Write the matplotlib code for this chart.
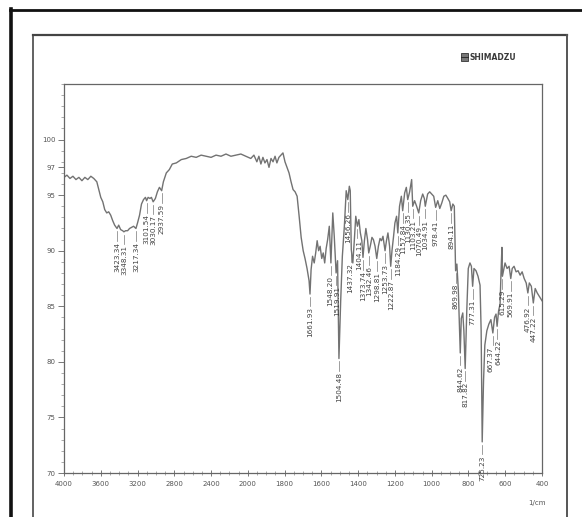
import numpy as np
import matplotlib
matplotlib.use("Agg")
import matplotlib.pyplot as plt
from matplotlib.patches import Rectangle
from matplotlib.lines import Line2D
from matplotlib.ticker import FixedLocator, MultipleLocator

# ---------------- data ----------------
wavenumber = [4000, 3968, 3935, 3903, 3870, 3838, 3805, 3773, 3741, 3708, 3676, 3643, 3622, 3600,
              3578, 3557, 3535, 3514, 3492, 3470, 3449, 3423.34, 3405, 3384, 3362, 3348.31, 3330,
              3308, 3287, 3265, 3243, 3217.34, 3200, 3178, 3157, 3135, 3114, 3101.54, 3085, 3065,
              3049, 3030.17, 3006, 2984, 2962, 2937.59, 2919, 2887, 2854, 2822, 2778, 2724, 2670,
              2616, 2562, 2508, 2454, 2400, 2346, 2292, 2238, 2184, 2130, 2076, 2022, 1984, 1967,
              1951, 1940, 1929, 1918, 1907, 1896, 1885, 1874, 1863, 1852, 1842, 1831, 1820, 1809,
              1798, 1787, 1776, 1765, 1754, 1743, 1732, 1721, 1710, 1699, 1689, 1678, 1667,
              1661.93, 1656, 1648, 1639, 1631, 1623, 1615, 1607, 1598, 1590, 1582, 1574, 1566,
              1557, 1548.20, 1538, 1530, 1519.91, 1512, 1504.48, 1495, 1486, 1475, 1465, 1456.26,
              1448, 1443, 1437.32, 1429, 1421, 1413, 1404.11, 1396, 1388, 1380, 1373.74, 1366,
              1358, 1349, 1342.46, 1333, 1325, 1317, 1308, 1298.81, 1290, 1281, 1273, 1265,
              1253.73, 1246, 1238, 1229, 1222.87, 1216, 1208, 1200, 1191, 1184.29, 1175, 1165,
              1157.84, 1147, 1138, 1130.35, 1120, 1109, 1103.21, 1093, 1082, 1070.49, 1060, 1049,
              1040, 1034.91, 1022, 1011, 1000, 989, 978.41, 967, 956, 945, 934, 923, 912, 902,
              894.11, 885, 877, 869.98, 863, 855, 844.62, 839, 831, 825, 817.82, 809, 801, 792,
              784, 777.31, 770, 759, 748, 737, 731, 725.23, 718, 711, 700, 689, 678, 667.37, 658,
              650, 644.22, 636, 628, 623, 618, 615.29, 601, 590, 579, 569.91, 562, 552, 541, 530,
              519, 508, 497, 486, 476.92, 469, 458, 447.22, 437, 426, 415, 400]

transmittance = [96.6, 96.8, 96.5, 96.7, 96.4, 96.6, 96.3, 96.6, 96.4, 96.7, 96.5, 96.2, 95.5, 94.8,
                 94.4, 93.7, 93.4, 93.5, 93.2, 92.7, 92.3, 92.0, 92.3, 91.9, 91.8, 91.7, 91.8,
                 91.8, 92.0, 92.1, 92.2, 92.0, 92.5, 93.2, 94.2, 94.6, 94.8, 94.5, 94.8, 94.7,
                 94.8, 94.4, 94.7, 95.3, 95.7, 95.4, 96.2, 97.0, 97.3, 97.8, 97.9, 98.2, 98.3,
                 98.5, 98.4, 98.6, 98.5, 98.4, 98.6, 98.5, 98.7, 98.5, 98.6, 98.7, 98.5, 98.3, 98.6,
                 98.0, 98.5, 97.8, 98.4, 97.9, 98.2, 97.5, 98.3, 98.0, 98.5, 97.9, 98.4, 98.6, 98.8,
                 98.0, 97.5, 97.0, 96.2, 95.5, 95.3, 94.9, 93.1, 91.2, 90.0, 89.3, 88.4, 87.3,
                 86.1, 88.3, 89.5, 88.9, 89.8, 90.9, 90.0, 90.4, 89.3, 89.8, 88.9, 90.2, 91.0,
                 92.2, 88.9, 93.4, 91.3, 88.0, 89.1, 80.3, 85.5, 89.5, 92.2, 95.4, 94.6,
                 95.8, 95.4, 90.1, 88.9, 90.9, 93.1, 92.2, 92.8, 91.6, 90.9, 89.4, 90.9,
                 92.0, 91.0, 89.8, 90.5, 91.2, 91.0, 90.4, 89.3, 90.4, 91.1, 90.9, 91.3,
                 90.0, 90.9, 91.6, 90.4, 88.6, 90.0, 91.2, 92.5, 93.1, 91.6, 94.0, 94.9,
                 93.6, 95.2, 95.7, 94.6, 95.3, 96.4, 94.0, 94.5, 94.0, 93.4, 94.5, 95.1,
                 94.7, 94.0, 95.1, 95.3, 95.1, 94.9, 93.9, 94.5, 93.8, 94.3, 94.9, 95.0, 94.7, 94.4,
                 93.6, 94.2, 94.0, 88.2, 88.8, 86.4, 80.8, 83.9, 84.4, 82.8, 79.4, 84.7, 88.4, 88.9,
                 88.6, 86.8, 88.4, 88.2, 87.7, 86.9, 82.8, 72.8, 78.3, 81.5, 82.8, 83.4, 83.8, 82.6, 84.0,
                 84.3, 83.2, 84.6, 85.2, 88.0, 90.3, 87.7, 88.9, 88.4, 88.6, 87.5, 88.4, 88.6, 88.1, 88.2,
                 87.8, 88.1, 87.5, 87.1, 86.2, 87.1, 86.8, 85.3, 86.6, 86.2, 85.9, 85.5]

peak_labels = ["3423.34", "3348.31", "3217.34", "3101.54", "3030.17", "2937.59", "1661.93",
               "1548.20", "1519.91", "1504.48", "1456.26", "1437.32", "1404.11", "1373.74",
               "1342.46", "1298.81", "1253.73", "1222.87", "1184.29", "1157.84", "1130.35",
               "1103.21", "1070.49", "1034.91", "978.41", "894.11", "869.98", "844.62",
               "817.82", "777.31", "725.23", "667.37", "644.22", "615.29", "569.91",
               "476.92", "447.22"]

x_ticks = [4000, 3600, 3200, 2800, 2400, 2000, 1800, 1600, 1400, 1200, 1000, 800, 600, 400]
y_ticks = [70, 75, 80, 85, 90, 95, 97.5, 100]
y_ticklabels = ["70", "75", "80", "85", "90", "95", "97", "100"]

# small horizontal nudges (points) for crowded peak labels
label_nudge = {"1437.32": -0.6, "1404.11": 1.2, "667.37": -1.5, "644.22": 1.0,
               "1548.20": -0.8, "1519.91": 0.5}

# ---------------- figure ----------------
W, H = 582, 517
fig = plt.figure(figsize=(W / 100, H / 100), dpi=100)
fig.patch.set_facecolor("white")

def fx(px):
    return px / W

def fy(py):
    return 1 - py / H

# page frames (scan border)
fig.add_artist(Line2D([fx(11), fx(11)], [fy(9), 0], color="#111111", lw=2.6))
fig.add_artist(Line2D([fx(10), 1.0], [fy(10), fy(10)], color="#111111", lw=2.0))
fig.add_artist(Line2D([fx(33), fx(33)], [fy(35), 0], color="#555555", lw=1.3))
fig.add_artist(Line2D([fx(33), fx(567)], [fy(35), fy(35)], color="#444444", lw=1.6))
fig.add_artist(Line2D([fx(567), fx(567)], [fy(35), 0], color="#555555", lw=1.4))

ax = fig.add_axes([fx(64), fy(473), fx(542) - fx(64), fy(84) - fy(473)])

def fwd(x):
    x = np.asarray(x, float)
    return np.where(x >= 2000, x / 2.0, x - 1000.0)

def inv(y):
    y = np.asarray(y, float)
    return np.where(y >= 1000, 2.0 * y, y + 1000.0)

ax.set_xscale("function", functions=(fwd, inv))
ax.set_xlim(4000, 400)
ax.set_ylim(70, 105)

ax.plot(wavenumber, transmittance, color="#727272", lw=1.0)

# peak labels
wn_arr = np.array(wavenumber)[::-1]
t_arr = np.array(transmittance)[::-1]
for lab in peak_labels:
    w = float(lab)
    t = float(np.interp(w, wn_arr, t_arr))
    ax.plot([w, w], [t - 0.25, t - 1.1], color="#777777", lw=0.5)
    ax.annotate(lab, xy=(w, t - 1.2), xytext=(label_nudge.get(lab, 0.0), 0),
                textcoords="offset points", rotation=90, ha="center", va="top",
                fontsize=5.2, color="#404040")

# axes styling
for s in ax.spines.values():
    s.set_color("#666666")
    s.set_linewidth(0.9)

ax.xaxis.set_major_locator(FixedLocator(x_ticks))
ax.set_xticklabels([str(v) for v in x_ticks])
minor_x = list(range(4000, 2000, -100)) + list(range(2000, 399, -50))
ax.xaxis.set_minor_locator(FixedLocator(minor_x))
ax.yaxis.set_major_locator(FixedLocator(y_ticks))
ax.set_yticklabels(y_ticklabels)
ax.yaxis.set_minor_locator(MultipleLocator(1))

ax.tick_params(axis="x", which="major", direction="inout", length=5, width=0.7,
               color="#777777", labelsize=5, labelcolor="#555555", pad=3)
ax.tick_params(axis="x", which="minor", direction="inout", length=3, width=0.5, color="#888888")
ax.tick_params(axis="y", which="major", direction="out", length=4, width=0.7,
               color="#777777", labelsize=5, labelcolor="#555555", pad=2)
ax.tick_params(axis="y", which="minor", direction="out", length=2, width=0.5, color="#888888")

fig.text(fx(537), fy(503), "1/cm", fontsize=5, color="#555555", ha="center", va="center")

# SHIMADZU logo
fig.add_artist(Rectangle((fx(461), fy(61)), fx(7), fy(53) - fy(61), facecolor="#777777",
                         edgecolor="#333333", lw=0.6))
fig.add_artist(Line2D([fx(461), fx(468)], [fy(57), fy(57)], color="#222222", lw=0.6))
fig.text(fx(469), fy(57), "SHIMADZU", fontsize=5.5, fontweight="bold", color="#3a3a3a",
         ha="left", va="center")

fig.savefig("out.png", dpi=100)
